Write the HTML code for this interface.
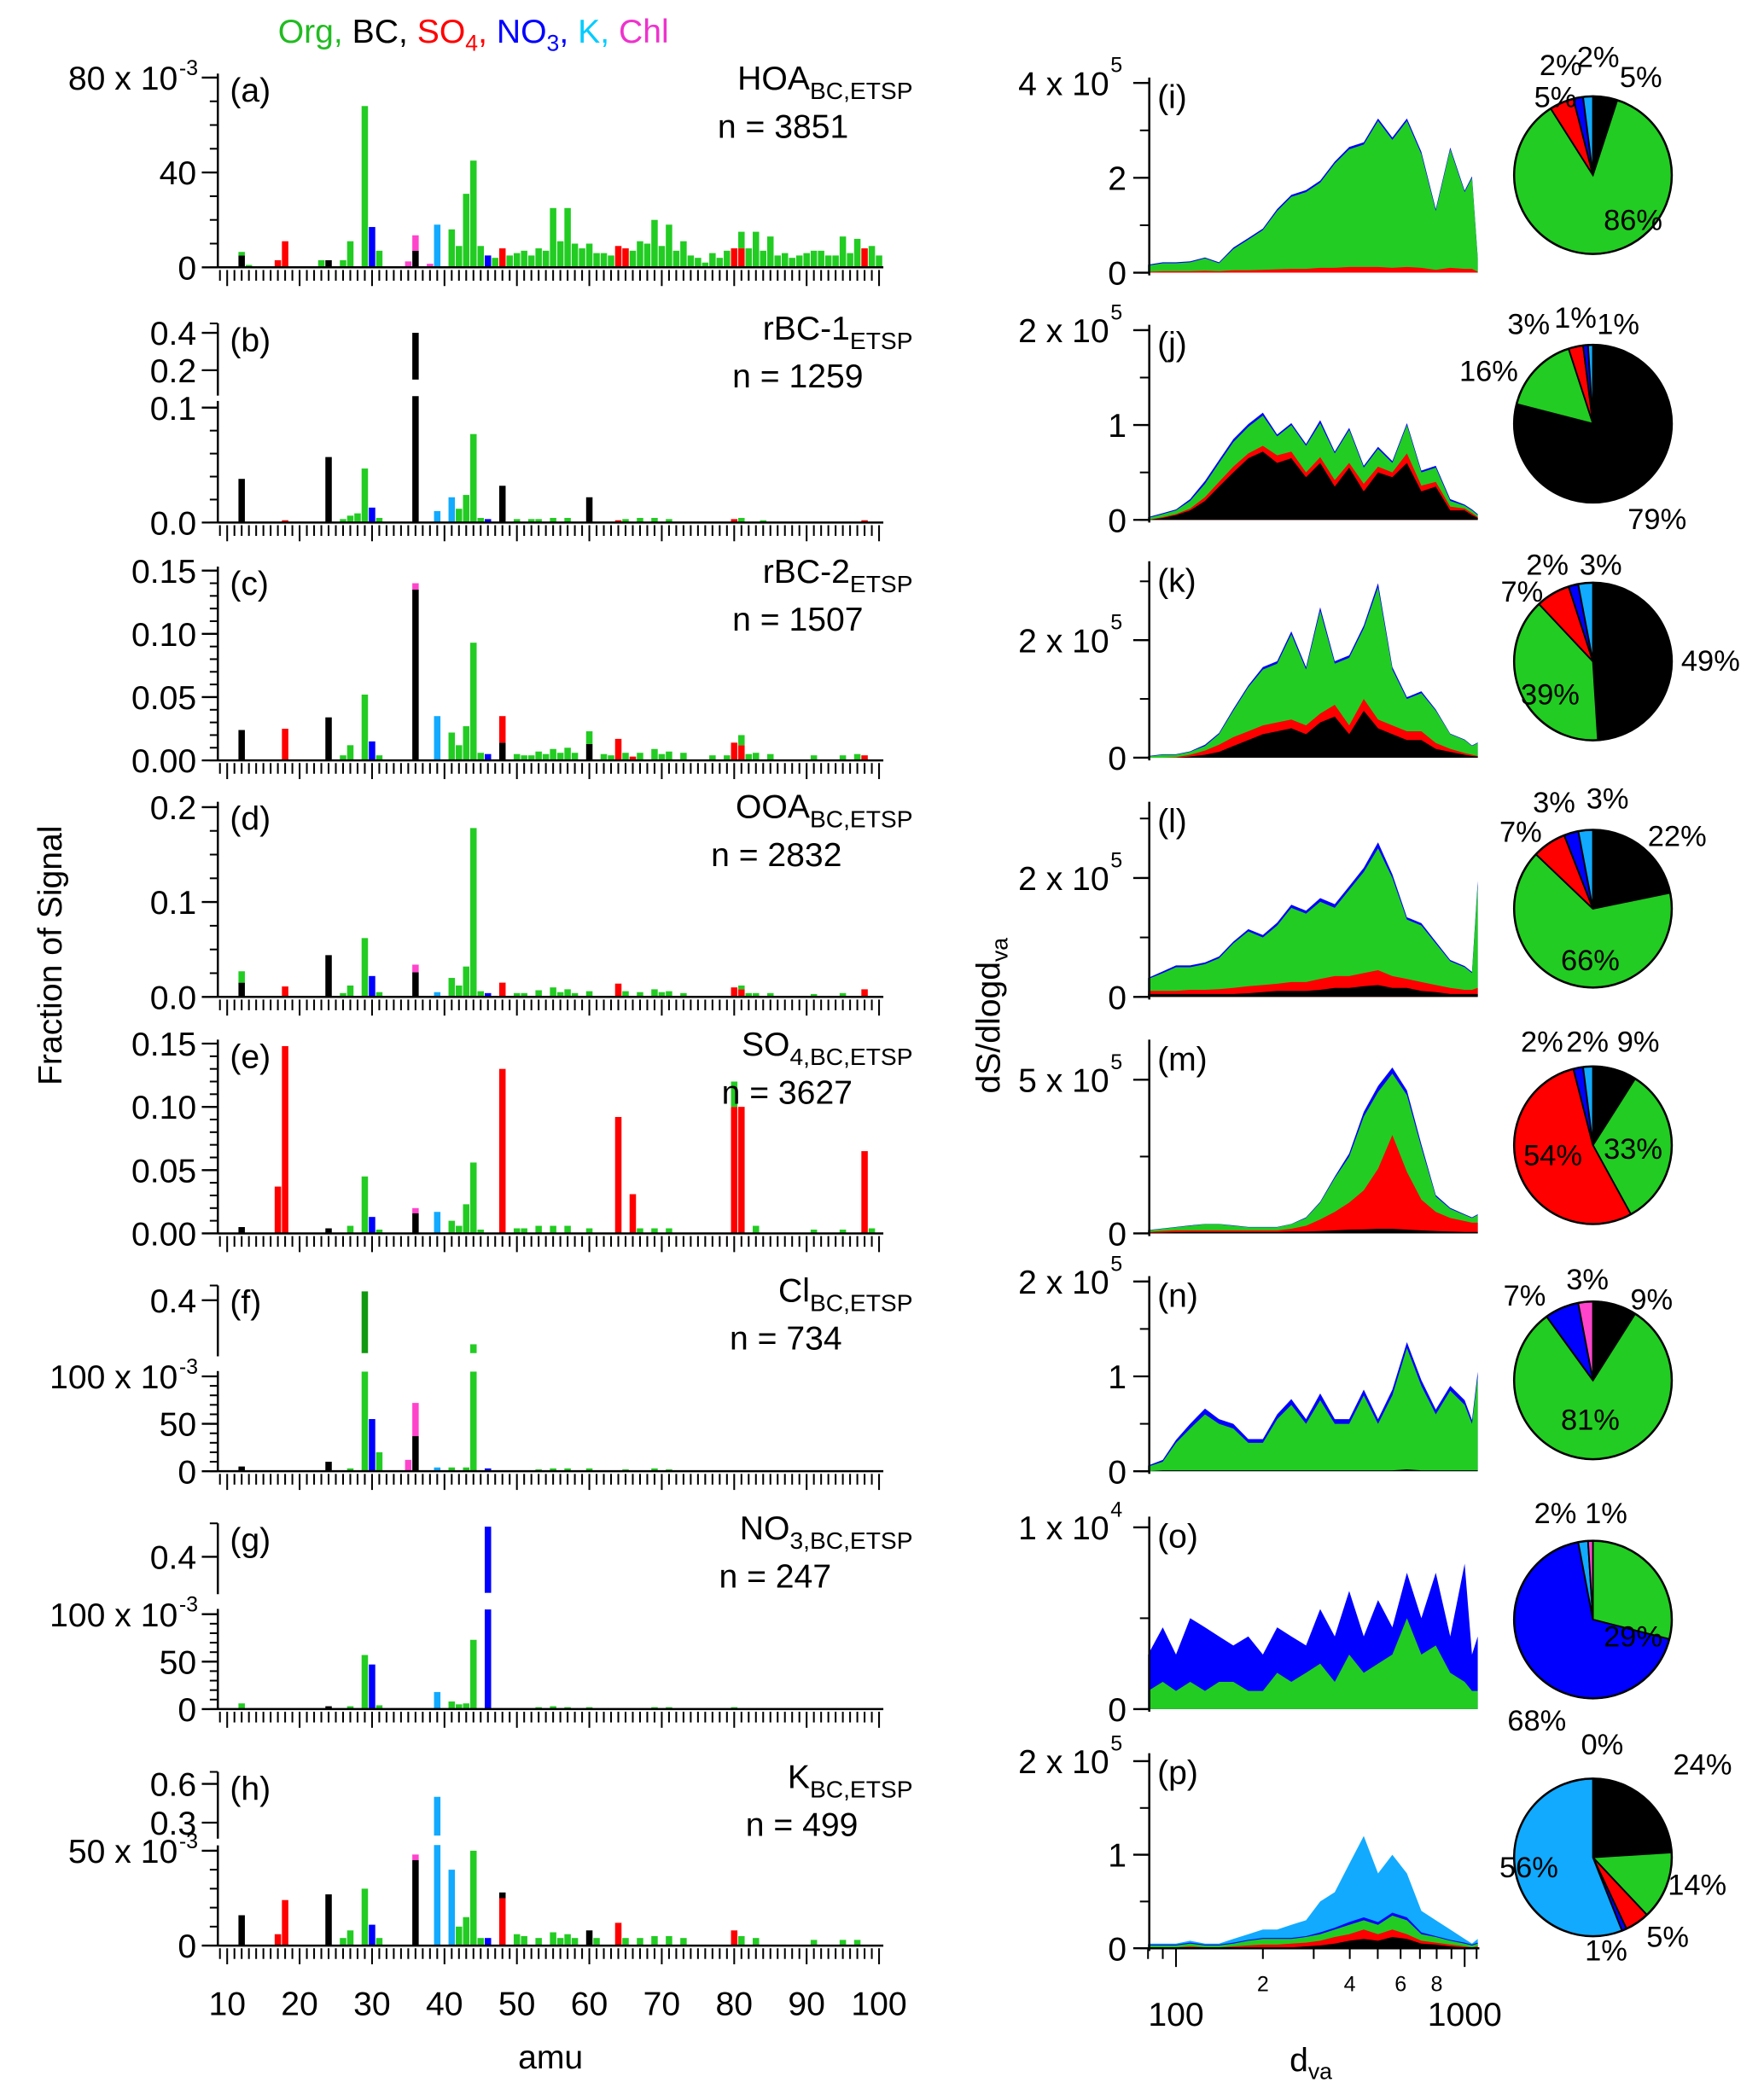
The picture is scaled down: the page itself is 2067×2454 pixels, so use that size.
<!DOCTYPE html>
<html><head><meta charset="utf-8"><style>
html,body{margin:0;padding:0;background:#fff}
svg{display:block;font-family:"Liberation Sans",Arial,sans-serif}
</style></head><body>
<svg id="fig" width="2067" height="2454" viewBox="0 0 1320 1567" xmlns="http://www.w3.org/2000/svg">
<g>
<text x="208" y="32" font-size="25"><tspan fill="#22bb22">Org,</tspan><tspan fill="#000"> BC,</tspan><tspan fill="#ff0000"> SO</tspan><tspan fill="#ff0000" font-size="17" dy="6">4</tspan><tspan fill="#ff0000" dy="-6">,</tspan><tspan fill="#0000ff"> NO</tspan><tspan fill="#0000ff" font-size="17" dy="6">3</tspan><tspan fill="#0000ff" dy="-6">,</tspan><tspan fill="#00ccff"> K,</tspan><tspan fill="#ee33cc"> Chl</tspan></text>
</g>
<text transform="translate(46,715) rotate(-90)" text-anchor="middle" font-size="25">Fraction of Signal</text>
<text x="412" y="1548" text-anchor="middle" font-size="25">amu</text>
<text transform="translate(748,760) rotate(-90)" text-anchor="middle" font-size="25">dS/dlogd<tspan font-size="17" dy="6">va</tspan></text>
<text x="965" y="1550" font-size="25">d<tspan font-size="17" dy="6">va</tspan></text>
<g id="left"></g><g id="right"></g><g id="pies"></g>
</svg>
<script>
const C={g:'#22cc22',k:'#000000',r:'#ff0000',b:'#0000ff',c:'#11aaff',m:'#ff44cc',G:'#119911'};
// ---- Mass spectra data: "amu species value" ----
const specA="12 k .005|12 g .0015|13 g .001|17 r .003|18 r .011|23 g .003|24 k .003|26 g .003|27 g .011|29 g .068|30 b .017|31 g .007|35 m .0025|36 k .007|36 m .0065|38 m .0015|39 c .018|41 g .016|42 g .009|43 g .031|44 g .045|45 g .009|46 b .005|47 g .004|48 r .008|49 g .005|50 g .006|51 g .007|52 g .005|53 g .008|54 g .007|55 g .025|56 g .011|57 g .025|58 g .010|59 g .008|60 g .010|61 g .006|62 g .006|63 g .005|64 r .009|65 r .008|66 g .007|67 g .011|68 g .010|69 g .020|70 g .009|71 g .018|72 g .007|73 g .011|74 g .005|75 g .004|76 g .002|77 g .006|78 g .004|79 g .007|80 r .008|81 r .008|81 g .007|82 g .008|83 g .015|84 g .007|85 g .013|86 g .005|87 g .006|88 g .004|89 g .005|90 g .006|91 g .007|92 g .007|93 g .005|94 g .005|95 g .013|96 g .006|97 g .012|98 r .008|99 g .009|100 g .005";
const specB="12 k .038|18 r .002|24 k .057|26 g .003|27 g .006|28 g .008|29 g .047|30 b .013|31 g .004|36 k .40|39 c .010|41 c .022|42 g .012|43 g .024|44 g .077|45 g .004|46 b .003|48 k .032|50 g .003|52 g .003|53 g .003|55 g .004|57 g .004|60 k .022|64 r .002|65 g .003|67 g .004|69 g .004|71 g .003|80 r .003|81 g .004|84 g .002|98 r .002";
const specC="12 k .024|18 r .025|24 k .034|26 g .004|27 g .012|29 g .052|30 b .015|31 g .004|36 k .135|36 m .005|39 c .035|41 g .022|42 g .012|43 g .027|44 g .093|45 g .006|46 b .005|48 k .014|48 r .021|50 g .005|51 g .004|52 g .004|53 g .007|54 g .005|55 g .009|56 g .006|57 g .010|58 g .006|60 k .013|60 g .010|62 g .005|63 g .004|64 r .017|65 g .006|66 r .003|67 g .006|69 g .009|70 g .005|71 g .007|73 g .006|77 g .004|79 g .004|80 r .014|81 r .012|81 g .008|82 g .005|83 g .006|85 g .005|91 g .004|95 g .004|97 g .005|98 r .004";
const specD="12 k .015|12 g .012|18 r .011|24 k .044|26 g .004|27 g .012|29 g .062|30 b .022|31 g .005|36 k .026|36 m .008|39 c .005|41 g .020|42 g .012|43 g .032|44 g .178|45 g .006|46 b .004|48 r .015|50 g .004|51 g .004|53 g .007|55 g .010|56 g .005|57 g .008|58 g .004|60 g .006|64 r .014|65 g .006|67 g .005|69 g .008|70 g .005|71 g .006|73 g .004|80 r .010|81 r .008|81 g .004|82 g .004|83 g .004|85 g .004|91 g .003|95 g .004|98 r .008";
const specE="12 k .005|17 r .037|18 r .148|24 k .004|27 g .006|29 g .045|30 b .013|31 g .003|36 k .016|36 m .004|39 c .017|41 g .010|42 g .006|43 g .023|44 g .056|45 g .003|48 r .130|50 g .004|51 g .004|53 g .006|55 g .006|57 g .006|60 g .004|64 r .092|66 r .031|67 g .004|69 g .004|71 g .004|80 r .100|80 g .020|81 r .100|83 g .006|91 g .003|95 g .003|98 r .065|99 g .004";
const specF="12 k .005|24 k .010|27 g .003|29 g .43|30 b .055|31 g .020|35 m .012|36 k .037|36 m .035|39 c .004|41 g .004|43 g .004|44 g .25|46 b .003|53 g .002|55 g .003|57 g .003|60 g .003|65 g .002|69 g .003|71 g .002";
const specG="12 g .006|24 k .003|27 g .003|29 g .057|30 b .047|31 g .004|39 c .018|41 g .008|42 g .005|43 g .006|44 g .073|46 b .55|53 g .002|55 g .003|57 g .002|60 g .002|69 g .002|71 g .002|80 g .002";
const specH="12 k .016|17 r .006|18 r .024|24 k .027|26 g .004|27 g .008|29 g .030|30 b .011|31 g .004|36 k .045|36 m .003|39 c .50|41 c .040|42 g .010|43 g .015|44 g .050|45 g .004|46 b .004|48 r .025|48 k .003|50 g .006|51 g .005|53 g .004|55 g .007|56 g .004|57 g .006|58 g .004|60 k .008|61 g .004|64 r .012|65 g .004|67 g .004|69 g .005|71 g .005|73 g .004|80 r .008|81 g .005|83 g .004|91 g .003|95 g .003|97 g .003";
const titles=[["(a)","HOA","BC,ETSP","n = 3851"],["(b)","rBC-1","ETSP","n = 1259"],["(c)","rBC-2","ETSP","n = 1507"],["(d)","OOA","BC,ETSP","n = 2832"],["(e)","SO","4,BC,ETSP","n = 3627"],["(f)","Cl","BC,ETSP","n = 734"],["(g)","NO","3,BC,ETSP","n = 247"],["(h)","K","BC,ETSP","n = 499"]];
const specs=[specA,specB,specC,specD,specE,specF,specG,specH];
// layout configs
const cfg=[
 {z:200,s:1775,top:55,ticks:[[0,'0'],[0.04,'40'],[0.08,'80 x 10','-3']],minor:0.01},
 {z:391,s:860,top:300,ticks:[[0,'0.0'],[0.1,'0.1']],minor:0.02,low:0.11,up:0.15,uy:291,us:140,utop:242,ub:296,uticks:[[0.2,'0.2'],[0.4,'0.4']]},
 {z:569,s:947,top:424,ticks:[[0,'0.00'],[0.05,'0.05'],[0.1,'0.10'],[0.15,'0.15']],minor:0.01},
 {z:746,s:710,top:600,ticks:[[0,'0.0'],[0.1,'0.1'],[0.2,'0.2']],minor:0.025},
 {z:923,s:947,top:778,ticks:[[0,'0.00'],[0.05,'0.05'],[0.1,'0.10'],[0.15,'0.15']],minor:0.01},
 {z:1101,s:710,top:1026,ticks:[[0,'0'],[0.05,'50'],[0.1,'100 x 10','-3']],minor:0.01,low:0.105,up:0.22,uy:1017,us:220,utop:962,ub:1015,uticks:[[0.4,'0.4']]},
 {z:1279,s:710,top:1204,ticks:[[0,'0'],[0.05,'50'],[0.1,'100 x 10','-3']],minor:0.01,low:0.105,up:0.22,uy:1195,us:150,utop:1140,ub:1193,uticks:[[0.4,'0.4']]},
 {z:1456,s:1420,top:1381,ticks:[[0,'0'],[0.05,'50 x 10','-3']],minor:0.01,low:0.053,up:0.2,uy:1364,us:96.7,utop:1326,ub:1376,uticks:[[0.3,'0.3'],[0.6,'0.6']]}
];
const NS='http://www.w3.org/2000/svg';
function el(p,t,a,txt){const e=document.createElementNS(NS,t);for(const k in a)e.setAttribute(k,a[k]);if(txt!=null)e.textContent=txt;p.appendChild(e);return e;}
const xAmu=a=>170+(a-10)*5.42;
const L=document.getElementById('left');
cfg.forEach((c,i)=>{
 const g=el(L,'g',{});
 
 
 const ax=163;
 const yl=v=>c.z-v*c.s, yu=v=>c.uy-(v-(c.up?c.uy===undefined?0:0:0))*0; // placeholder
 const ymapU=v=>c.uy-(v-(i==1?0.1:i==7?0.3:0.2))*c.us;
 // bars
 const base={};
 specs[i].split('|').forEach(s=>{
  const [a,sp,vs]=s.trim().split(' ');const amu=+a,v=+vs;
  const v0=base[amu]||0,v1=v0+v;base[amu]=v1;
  const x=xAmu(amu)-2.4;
  const lo0=Math.min(v0,c.low||1),lo1=Math.min(v1,c.low||1);
  if(lo1>lo0){const r=el(g,'rect',{x:x,y:yl(lo1),width:4.8,height:yl(lo0)-yl(lo1),fill:C[sp]});
   }
  if(c.low&&v1>c.up){const u0=Math.max(v0,c.up);const r=el(g,'rect',{x:x,y:ymapU(v1),width:4.8,height:ymapU(u0)-ymapU(v1),fill:(i==5&&sp=='g'&&amu==29)?C.G:C[sp]});
   }
 });
 // baseline + x ticks
 el(g,'line',{x1:ax,y1:c.z,x2:661,y2:c.z,stroke:'#000','stroke-width':1.6});
 for(let a=9;a<=100;a++){const big=a%10==0;el(g,'line',{x1:xAmu(a),y1:c.z+2,x2:xAmu(a),y2:c.z+(big?14:10),stroke:'#000','stroke-width':1.3});}
 // y axis
 el(g,'line',{x1:ax,y1:c.z,x2:ax,y2:c.top,stroke:'#000','stroke-width':1.6});
 const maxv=(c.z-c.top)/c.s;
 for(let v=0;v<=maxv+1e-9;v+=c.minor)el(g,'line',{x1:ax-6,y1:yl(v),x2:ax,y2:yl(v),stroke:'#000','stroke-width':1.3});
 c.ticks.forEach(t=>{el(g,'line',{x1:ax-12,y1:yl(t[0]),x2:ax,y2:yl(t[0]),stroke:'#000','stroke-width':1.5});
  const tx=el(g,'text',{x:ax-16,y:yl(t[0])+9,'text-anchor':'end','font-size':25},t[1]);
  if(t[2]){tx.setAttribute('x',ax-30);el(g,'text',{x:ax-29,y:yl(t[0])-2,'font-size':16},t[2]);}});
 if(c.low){el(g,'line',{x1:ax,y1:c.ub,x2:ax,y2:c.utop,stroke:'#000','stroke-width':1.6});
  c.uticks.forEach(t=>{el(g,'line',{x1:ax-12,y1:ymapU(t[0]),x2:ax,y2:ymapU(t[0]),stroke:'#000','stroke-width':1.5});
   el(g,'text',{x:ax-16,y:ymapU(t[0])+9,'text-anchor':'end','font-size':25},t[1]);});
  el(g,'line',{x1:ax-6,y1:c.utop,x2:ax,y2:c.utop,stroke:'#000','stroke-width':1.3});}
 const T=titles[i];const ty=(c.low?c.utop:c.top);
 el(g,'text',{x:172,y:ty+21,'font-size':25},T[0]);
 const tt=el(g,'text',{x:683,y:ty+12,'text-anchor':'end','font-size':25});
 el(tt,'tspan',{},T[1]);el(tt,'tspan',{'font-size':18,dy:7},T[2]);
 el(g,'text',{x:i==4?540:(i==0?537:(i==1?548:(i==2?548:(i==3?532:(i==5?546:(i==6?538:558)))))),y:ty+48,'font-size':25},T[3]);
 if(i==7)[10,20,30,40,50,60,70,80,90,100].forEach(a=>el(g,'text',{x:xAmu(a),y:1508,'text-anchor':'middle','font-size':25},String(a)));
});
// ---- Size distributions: cumulative layer tops, diameters in nm ----
const dva=[80,90,100,112,126,141,158,178,200,224,251,282,316,355,398,447,501,562,631,708,794,891,1000,1060,1110];
const sdI_k=[0,0,0,0,0,0,0,0,0,0,0,0,0,0,0,0,0,0,0,0,0,0,0,0,0];
const sdI_r=[.02,.03,.03,.03,.04,.03,.05,.05,.06,.07,.08,.08,.1,.1,.12,.12,.12,.1,.12,.1,.06,.1,.08,.08,.02];
const sdI_g=[.15,.2,.2,.22,.3,.2,.5,.7,.9,1.3,1.6,1.7,1.9,2.3,2.6,2.7,3.2,2.8,3.2,2.5,1.3,2.6,1.7,2.0,.3];
const sdI_b=[.17,.22,.22,.24,.32,.22,.53,.73,.93,1.34,1.64,1.74,1.94,2.34,2.65,2.75,3.25,2.85,3.25,2.55,1.34,2.64,1.73,2.03,.32];
const sdJ_k=[0,.02,.05,.1,.2,.35,.5,.65,.72,.6,.65,.45,.6,.35,.55,.3,.5,.45,.6,.3,.35,.1,.1,.05,.02];
const sdJ_r=[0,.03,.06,.12,.24,.4,.56,.7,.78,.68,.72,.5,.66,.42,.6,.38,.56,.5,.7,.36,.4,.14,.12,.07,.03];
const sdJ_g=[.02,.06,.1,.2,.38,.6,.82,.98,1.1,.88,1.0,.78,1.02,.7,.95,.55,.75,.6,1.0,.5,.55,.2,.15,.1,.05];
const sdJ_b=[.03,.07,.11,.22,.41,.63,.85,1.01,1.13,.9,1.02,.8,1.05,.72,.97,.57,.77,.62,1.02,.52,.57,.22,.16,.11,.06];
const sdK_k=[0,0,0,.02,.05,.1,.2,.3,.4,.45,.5,.4,.6,.7,.4,.8,.5,.4,.3,.3,.15,.1,.05,.03,.02];
const sdK_r=[0,0,.01,.05,.12,.22,.35,.45,.55,.6,.65,.55,.75,.9,.55,1.0,.65,.55,.45,.45,.25,.15,.08,.05,.03];
const sdK_g=[.02,.05,.05,.1,.2,.4,.8,1.2,1.5,1.6,2.1,1.5,2.5,1.6,1.7,2.2,2.9,1.5,1.0,1.1,.8,.4,.3,.2,.25];
const sdK_b=[.03,.06,.06,.11,.22,.42,.83,1.23,1.54,1.64,2.15,1.54,2.56,1.64,1.74,2.25,2.97,1.54,1.03,1.13,.82,.41,.31,.21,.26];
const sdL_k=[.05,.05,.05,.05,.05,.05,.05,.06,.08,.1,.1,.1,.12,.15,.15,.18,.2,.15,.15,.1,.08,.05,.05,.05,.05];
const sdL_r=[.1,.1,.1,.12,.12,.13,.15,.18,.2,.22,.25,.25,.3,.35,.35,.4,.45,.35,.3,.25,.2,.15,.12,.12,.15];
const sdL_g=[.3,.4,.5,.5,.55,.65,.9,1.1,1.0,1.2,1.5,1.4,1.6,1.5,1.8,2.1,2.5,2.0,1.3,1.2,.9,.6,.5,.4,1.9];
const sdL_b=[.32,.43,.53,.53,.58,.68,.93,1.14,1.04,1.25,1.55,1.45,1.66,1.56,1.86,2.17,2.6,2.06,1.34,1.24,.93,.62,.52,.42,1.95];
const sdM_k=[.02,.03,.04,.05,.05,.05,.05,.05,.05,.05,.06,.06,.08,.1,.12,.13,.15,.15,.12,.1,.08,.06,.05,.05,.05];
const sdM_r=[.05,.08,.1,.1,.1,.1,.1,.1,.1,.1,.15,.25,.45,.7,1.0,1.4,2.1,3.2,2.0,1.1,.7,.5,.4,.35,.35];
const sdM_g=[.1,.15,.2,.25,.3,.3,.25,.2,.2,.2,.3,.5,1.0,1.8,2.5,3.8,4.6,5.2,4.5,2.8,1.2,.8,.6,.5,.6];
const sdM_b=[.11,.16,.21,.26,.31,.31,.26,.21,.21,.21,.31,.52,1.03,1.85,2.6,3.95,4.8,5.4,4.65,2.9,1.25,.83,.62,.52,.62];
const sdN_k=[0,.01,.01,.01,.01,.01,.01,.01,.01,.01,.01,.01,.01,.01,.01,.01,.01,.01,.02,.01,.01,.01,.01,.01,.01];
const sdN_g=[.05,.1,.3,.45,.6,.5,.45,.3,.3,.55,.7,.5,.75,.5,.5,.8,.5,.8,1.3,.9,.6,.85,.7,.5,1.0];
const sdN_b=[.06,.12,.33,.5,.66,.55,.5,.34,.34,.6,.76,.55,.82,.55,.55,.86,.55,.86,1.36,.96,.65,.9,.75,.54,1.05];
const sdO_g=[.1,.15,.1,.15,.1,.15,.15,.1,.1,.2,.15,.2,.25,.15,.3,.2,.25,.3,.5,.3,.35,.2,.15,.1,.1];
const sdO_b=[.3,.45,.3,.5,.45,.4,.35,.4,.3,.45,.4,.35,.55,.4,.65,.4,.6,.45,.75,.5,.75,.4,.8,.3,.4];
const sdP_k=[0,0,0,0,0,0,0,.01,.01,.01,.01,.02,.03,.05,.08,.1,.08,.12,.1,.05,.04,.02,.01,.01,.01];
const sdP_r=[.01,.01,.01,.02,.01,.01,.02,.03,.04,.04,.05,.06,.08,.12,.15,.2,.15,.2,.15,.08,.06,.04,.02,.01,.02];
const sdP_g=[.03,.03,.03,.05,.03,.03,.05,.08,.1,.1,.1,.12,.15,.2,.25,.3,.25,.35,.3,.15,.12,.08,.05,.03,.05];
const sdP_b=[.04,.04,.04,.06,.04,.04,.06,.09,.11,.11,.11,.13,.17,.22,.28,.33,.28,.38,.33,.17,.13,.09,.06,.04,.06];
const sdP_c=[.05,.05,.05,.08,.05,.05,.1,.15,.2,.2,.25,.3,.5,.6,.9,1.2,.8,1.0,.8,.4,.3,.2,.1,.05,.1];
const rpan=[
 {z:204,s:35.5,lab:[[0,'0'],[2,'2'],[4,'4 x 10','5']],minor:1,layers:[[sdI_b,'b'],[sdI_g,'g'],[sdI_r,'r']],top:58},
 {z:389,s:71,lab:[[0,'0'],[1,'1'],[2,'2 x 10','5']],minor:0.5,layers:[[sdJ_b,'b'],[sdJ_g,'g'],[sdJ_r,'r'],[sdJ_k,'k']],top:243},
 {z:567,s:44,lab:[[0,'0'],[2,'2 x 10','5']],minor:1,layers:[[sdK_b,'b'],[sdK_g,'g'],[sdK_r,'r'],[sdK_k,'k']],top:420},
 {z:746,s:44.5,lab:[[0,'0'],[2,'2 x 10','5']],minor:1,layers:[[sdL_b,'b'],[sdL_g,'g'],[sdL_r,'r'],[sdL_k,'k']],top:600},
 {z:923,s:23,lab:[[0,'0'],[5,'5 x 10','5']],minor:2.5,layers:[[sdM_b,'b'],[sdM_g,'g'],[sdM_r,'r'],[sdM_k,'k']],top:778},
 {z:1101,s:71,lab:[[0,'0'],[1,'1'],[2,'2 x 10','5']],minor:0.5,layers:[[sdN_b,'b'],[sdN_g,'g'],[sdN_k,'k']],top:955},
 {z:1279,s:136,lab:[[0,'0'],[1,'1 x 10','4']],minor:0.5,layers:[[sdO_b,'b'],[sdO_g,'g']],top:1135},
 {z:1458,s:70,lab:[[0,'0'],[1,'1'],[2,'2 x 10','5']],minor:0.5,layers:[[sdP_c,'c'],[sdP_b,'b'],[sdP_g,'g'],[sdP_r,'r'],[sdP_k,'k']],top:1312}
];
const xd=d=>880+(Math.log10(d)-2)*216;
const R=document.getElementById('right');
rpan.forEach((p,i)=>{
 const g=el(R,'g',{});
 
 
 const y=v=>p.z-v*p.s;
 p.layers.forEach(([arr,sp])=>{
  let pts=dva.map((d,j)=>xd(d).toFixed(1)+','+y(arr[j]).toFixed(1)).join(' ');
  pts=xd(dva[0]).toFixed(1)+','+p.z+' '+pts+' '+xd(dva[dva.length-1]).toFixed(1)+','+p.z;
  const a=el(g,'polygon',{points:pts,fill:C[sp]});
  
  
 });
 el(g,'line',{x1:860,y1:p.top,x2:860,y2:p.z+2,stroke:'#000','stroke-width':1.6});
 for(let v=0;y(v)>=p.top-1;v+=p.minor)el(g,'line',{x1:853,y1:y(v),x2:860,y2:y(v),stroke:'#000','stroke-width':1.3});
 p.lab.forEach(t=>{el(g,'line',{x1:848,y1:y(t[0]),x2:860,y2:y(t[0]),stroke:'#000','stroke-width':1.5});
  const tx=el(g,'text',{x:t[2]?830:843,y:y(t[0])+9,'text-anchor':'end','font-size':25},t[1]);
  if(t[2])el(g,'text',{x:831,y:y(t[0])-8,'font-size':16},t[2]);});
 el(g,'text',{x:866,y:p.top+23,'font-size':25},'('+'ijklmnop'[i]+')');
 if(i==7){
  el(g,'line',{x1:860,y1:p.z,x2:1107,y2:p.z,stroke:'#000','stroke-width':1.6});
  for(let d=80;d<=1100;d+=(d<100?10:d<1000?100:100)){const big=(d==100||d==1000);el(g,'line',{x1:xd(d),y1:p.z,x2:xd(d),y2:p.z+(big?14:8),stroke:'#000','stroke-width':1.3});}
  [[100,'100',25],[200,'2',16],[400,'4',16],[600,'6',16],[800,'8',16],[1000,'1000',25]].forEach(t=>el(g,'text',{x:xd(t[0]),y:t[2]>20?1516:1490,'text-anchor':'middle','font-size':t[2]},t[1]));
 }
});
// ---- Pies: percent [BC, Org, SO4, NO3, K, Chl] ----
const pieI=[5,86,5,2,2,0],pieJ=[79,16,3,1,1,0],pieK=[49,39,7,2,3,0],pieL=[22,66,7,3,3,0],
pieM=[9,33,54,2,2,0],pieN=[9,81,0,7,0,3],pieO=[0,29,0,68,2,1],pieP=[24,14,5,1,56,0];
const pies=[pieI,pieJ,pieK,pieL,pieM,pieN,pieO,pieP];
const pieCol=['k','g','r','b','c','m'];
const pieCy=[131,317,495,680,857,1033,1212,1390];
const pieLabels=[
 [[1148,80,'5%'],[1152,56,'2%'],[1180,50,'2%'],[1212,65,'5%'],[1200,172,'86%']],
 [[1128,250,'3%'],[1163,245,'1%'],[1195,250,'1%'],[1092,285,'16%'],[1218,396,'79%']],
 [[1123,450,'7%'],[1142,430,'2%'],[1182,430,'3%'],[1258,502,'49%'],[1138,527,'39%']],
 [[1122,630,'7%'],[1147,608,'3%'],[1187,605,'3%'],[1233,633,'22%'],[1168,726,'66%']],
 [[1138,787,'2%'],[1172,787,'2%'],[1210,787,'9%'],[1140,872,'54%'],[1200,867,'33%']],
 [[1125,977,'7%'],[1172,965,'3%'],[1220,980,'9%'],[1168,1070,'81%']],
 [[1148,1140,'2%'],[1186,1140,'1%'],[1200,1232,'29%'],[1128,1295,'68%'],[1183,1313,'0%']],
 [[1252,1328,'24%'],[1122,1405,'56%'],[1248,1418,'14%'],[1232,1457,'5%'],[1186,1467,'1%']]
];
const P=document.getElementById('pies');
pies.forEach((arr,i)=>{
 const g=el(P,'g',{});
 
 
 const cx=1192,cy=pieCy[i],r=59;let a0=0;
 const tot=arr.reduce((a,b)=>a+b,0);
 arr.forEach((v,j)=>{if(!v)return;const a1=a0+v/tot*2*Math.PI;
  const p=(a)=>[cx+r*Math.sin(a),cy-r*Math.cos(a)];const [x0,y0]=p(a0),[x1,y1]=p(a1);
  const s=el(g,'path',{d:`M${cx},${cy} L${x0.toFixed(2)},${y0.toFixed(2)} A${r},${r} 0 ${a1-a0>Math.PI?1:0} 1 ${x1.toFixed(2)},${y1.toFixed(2)} Z`,fill:C[pieCol[j]],stroke:'#000','stroke-width':1.2});
  
  
  a0=a1;});
 el(g,'circle',{cx:cx,cy:cy,r:r,fill:'none',stroke:'#000','stroke-width':1.6});
 pieLabels[i].forEach(t=>el(g,'text',{x:t[0],y:t[1],'font-size':22},t[2]));
});
</script>
</body></html>
